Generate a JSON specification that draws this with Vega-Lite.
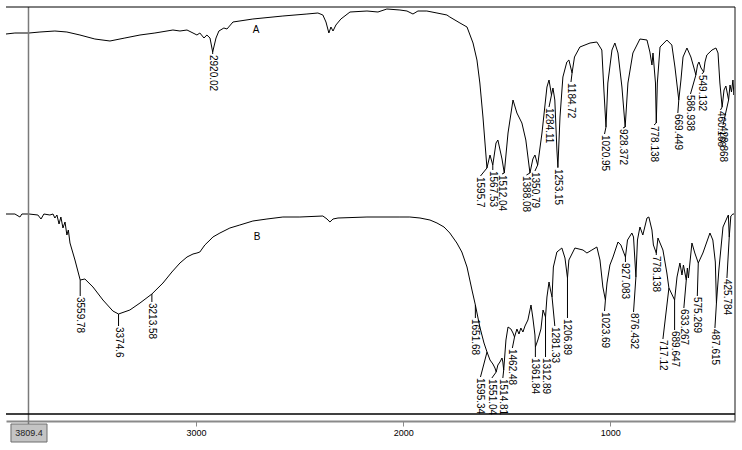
{
  "$schema": "https://vega.github.io/schema/vega-lite/v6.json",
  "autosize": "none",
  "width": 729,
  "height": 414,
  "padding": {"left": 6, "top": 7, "right": 7, "bottom": 29},
  "background": "white",
  "config": {"view": {"stroke": null}},
  "data": {"values": [
      {"k":"A","w":3918,"t":387},{"k":"A","w":3875,"t":388},{"k":"A","w":3807,"t":388},{"k":"A","w":3754,"t":389},{"k":"A","w":3682,"t":390},{"k":"A","w":3624,"t":389},{"k":"A","w":3561,"t":386},{"k":"A","w":3489,"t":382},{"k":"A","w":3416,"t":380},{"k":"A","w":3344,"t":383},{"k":"A","w":3271,"t":386},{"k":"A","w":3199,"t":388},{"k":"A","w":3112,"t":391},{"k":"A","w":3078,"t":390},{"k":"A","w":3044,"t":391},{"k":"A","w":3015,"t":388},{"k":"A","w":2996,"t":386},{"k":"A","w":2982,"t":388},{"k":"A","w":2962,"t":383},{"k":"A","w":2948,"t":386},{"k":"A","w":2933,"t":383},{"k":"A","w":2920.02,"t":369},{"k":"A","w":2904,"t":383},{"k":"A","w":2890,"t":390},{"k":"A","w":2866,"t":393},{"k":"A","w":2851,"t":392},{"k":"A","w":2822,"t":399},{"k":"A","w":2726,"t":402},{"k":"A","w":2581,"t":405},{"k":"A","w":2465,"t":407},{"k":"A","w":2412,"t":408},{"k":"A","w":2388,"t":406},{"k":"A","w":2373,"t":399},{"k":"A","w":2359,"t":388},{"k":"A","w":2349,"t":394},{"k":"A","w":2339,"t":390},{"k":"A","w":2325,"t":396},{"k":"A","w":2301,"t":402},{"k":"A","w":2257,"t":409},{"k":"A","w":2175,"t":410},{"k":"A","w":2122,"t":409},{"k":"A","w":2079,"t":412},{"k":"A","w":2016,"t":411},{"k":"A","w":1982,"t":410},{"k":"A","w":1953,"t":407},{"k":"A","w":1929,"t":410},{"k":"A","w":1886,"t":410},{"k":"A","w":1837,"t":408},{"k":"A","w":1789,"t":406},{"k":"A","w":1775,"t":404},{"k":"A","w":1726,"t":398},{"k":"A","w":1692,"t":394},{"k":"A","w":1663,"t":378},{"k":"A","w":1644,"t":361},{"k":"A","w":1630,"t":338},{"k":"A","w":1615,"t":304},{"k":"A","w":1595.7,"t":253},{"k":"A","w":1581,"t":266},{"k":"A","w":1567.53,"t":256},{"k":"A","w":1552,"t":278},{"k":"A","w":1543,"t":281},{"k":"A","w":1523,"t":262},{"k":"A","w":1512.04,"t":248},{"k":"A","w":1494,"t":288},{"k":"A","w":1470,"t":321},{"k":"A","w":1451,"t":308},{"k":"A","w":1427,"t":298},{"k":"A","w":1408,"t":281},{"k":"A","w":1388.08,"t":248},{"k":"A","w":1374,"t":262},{"k":"A","w":1364,"t":266},{"k":"A","w":1350.79,"t":256},{"k":"A","w":1330,"t":288},{"k":"A","w":1306,"t":334},{"k":"A","w":1296,"t":341},{"k":"A","w":1284.11,"t":326},{"k":"A","w":1277,"t":333},{"k":"A","w":1268,"t":321},{"k":"A","w":1258,"t":271},{"k":"A","w":1253.15,"t":254},{"k":"A","w":1243,"t":304},{"k":"A","w":1229,"t":344},{"k":"A","w":1210,"t":359},{"k":"A","w":1200,"t":361},{"k":"A","w":1184.72,"t":348},{"k":"A","w":1173,"t":364},{"k":"A","w":1147,"t":374},{"k":"A","w":1098,"t":378},{"k":"A","w":1065,"t":379},{"k":"A","w":1041,"t":371},{"k":"A","w":1031,"t":331},{"k":"A","w":1020.95,"t":294},{"k":"A","w":1012,"t":338},{"k":"A","w":992,"t":371},{"k":"A","w":978,"t":378},{"k":"A","w":963,"t":368},{"k":"A","w":944,"t":334},{"k":"A","w":928.372,"t":294},{"k":"A","w":915,"t":338},{"k":"A","w":891,"t":368},{"k":"A","w":857,"t":382},{"k":"A","w":823,"t":381},{"k":"A","w":809,"t":369},{"k":"A","w":799,"t":356},{"k":"A","w":794,"t":368},{"k":"A","w":782,"t":338},{"k":"A","w":778.138,"t":298},{"k":"A","w":773,"t":338},{"k":"A","w":760,"t":374},{"k":"A","w":727,"t":381},{"k":"A","w":703,"t":376},{"k":"A","w":688,"t":354},{"k":"A","w":669.449,"t":321},{"k":"A","w":659,"t":341},{"k":"A","w":649,"t":364},{"k":"A","w":630,"t":373},{"k":"A","w":611,"t":364},{"k":"A","w":596,"t":353},{"k":"A","w":586.938,"t":346},{"k":"A","w":579,"t":356},{"k":"A","w":572,"t":359},{"k":"A","w":562,"t":353},{"k":"A","w":549.132,"t":349},{"k":"A","w":543,"t":359},{"k":"A","w":534,"t":366},{"k":"A","w":509,"t":371},{"k":"A","w":490,"t":373},{"k":"A","w":480,"t":368},{"k":"A","w":471,"t":338},{"k":"A","w":460.168,"t":314},{"k":"A","w":451,"t":331},{"k":"A","w":442,"t":335},{"k":"A","w":428.868,"t":321},{"k":"A","w":422,"t":336},{"k":"A","w":415,"t":329},{"k":"A","w":408,"t":341},{"k":"A","w":403,"t":326},{"k":"A","w":398,"t":338},
      {"k":"B","w":3918,"t":207},{"k":"B","w":3875,"t":207},{"k":"B","w":3851,"t":204},{"k":"B","w":3841,"t":207},{"k":"B","w":3807,"t":207},{"k":"B","w":3764,"t":206},{"k":"B","w":3749,"t":202},{"k":"B","w":3735,"t":207},{"k":"B","w":3706,"t":206},{"k":"B","w":3691,"t":207},{"k":"B","w":3682,"t":203},{"k":"B","w":3672,"t":206},{"k":"B","w":3662,"t":197},{"k":"B","w":3653,"t":204},{"k":"B","w":3643,"t":193},{"k":"B","w":3633,"t":199},{"k":"B","w":3624,"t":186},{"k":"B","w":3617,"t":191},{"k":"B","w":3609,"t":178},{"k":"B","w":3585,"t":161},{"k":"B","w":3559.78,"t":141},{"k":"B","w":3537,"t":142},{"k":"B","w":3498,"t":134},{"k":"B","w":3450,"t":121},{"k":"B","w":3402,"t":110},{"k":"B","w":3374.6,"t":107},{"k":"B","w":3320,"t":111},{"k":"B","w":3271,"t":118},{"k":"B","w":3213.58,"t":127},{"k":"B","w":3160,"t":138},{"k":"B","w":3117,"t":149},{"k":"B","w":3078,"t":158},{"k":"B","w":3044,"t":164},{"k":"B","w":3015,"t":167},{"k":"B","w":2996,"t":168},{"k":"B","w":2982,"t":169},{"k":"B","w":2958,"t":176},{"k":"B","w":2933,"t":181},{"k":"B","w":2919,"t":184},{"k":"B","w":2885,"t":188},{"k":"B","w":2837,"t":193},{"k":"B","w":2789,"t":196},{"k":"B","w":2726,"t":200},{"k":"B","w":2658,"t":202},{"k":"B","w":2581,"t":204},{"k":"B","w":2499,"t":204},{"k":"B","w":2388,"t":205},{"k":"B","w":2368,"t":202},{"k":"B","w":2354,"t":199},{"k":"B","w":2339,"t":202},{"k":"B","w":2315,"t":203},{"k":"B","w":2175,"t":204},{"k":"B","w":2016,"t":204},{"k":"B","w":1968,"t":204},{"k":"B","w":1919,"t":203},{"k":"B","w":1871,"t":201},{"k":"B","w":1837,"t":198},{"k":"B","w":1803,"t":194},{"k":"B","w":1775,"t":188},{"k":"B","w":1741,"t":178},{"k":"B","w":1717,"t":169},{"k":"B","w":1692,"t":154},{"k":"B","w":1668,"t":131},{"k":"B","w":1651.68,"t":116},{"k":"B","w":1630,"t":94},{"k":"B","w":1610,"t":78},{"k":"B","w":1595.34,"t":69},{"k":"B","w":1581,"t":61},{"k":"B","w":1567,"t":57},{"k":"B","w":1557,"t":53},{"k":"B","w":1551.04,"t":49},{"k":"B","w":1543,"t":56},{"k":"B","w":1533,"t":59},{"k":"B","w":1523,"t":63},{"k":"B","w":1519,"t":59},{"k":"B","w":1514.81,"t":51},{"k":"B","w":1504,"t":81},{"k":"B","w":1494,"t":94},{"k":"B","w":1480,"t":92},{"k":"B","w":1470,"t":88},{"k":"B","w":1462.48,"t":84},{"k":"B","w":1451,"t":92},{"k":"B","w":1441,"t":87},{"k":"B","w":1432,"t":93},{"k":"B","w":1422,"t":89},{"k":"B","w":1412,"t":95},{"k":"B","w":1398,"t":101},{"k":"B","w":1383,"t":116},{"k":"B","w":1374,"t":103},{"k":"B","w":1364,"t":86},{"k":"B","w":1361.84,"t":74},{"k":"B","w":1350,"t":81},{"k":"B","w":1335,"t":92},{"k":"B","w":1325,"t":111},{"k":"B","w":1312.89,"t":104},{"k":"B","w":1306,"t":124},{"k":"B","w":1296,"t":139},{"k":"B","w":1289,"t":131},{"k":"B","w":1281.33,"t":124},{"k":"B","w":1275,"t":154},{"k":"B","w":1258,"t":169},{"k":"B","w":1234,"t":173},{"k":"B","w":1219,"t":163},{"k":"B","w":1206.89,"t":143},{"k":"B","w":1200,"t":161},{"k":"B","w":1171,"t":173},{"k":"B","w":1132,"t":171},{"k":"B","w":1113,"t":168},{"k":"B","w":1089,"t":171},{"k":"B","w":1065,"t":174},{"k":"B","w":1050,"t":161},{"k":"B","w":1036,"t":134},{"k":"B","w":1023.69,"t":121},{"k":"B","w":1016,"t":138},{"k":"B","w":1002,"t":156},{"k":"B","w":987,"t":164},{"k":"B","w":963,"t":179},{"k":"B","w":949,"t":176},{"k":"B","w":927.083,"t":164},{"k":"B","w":917,"t":181},{"k":"B","w":896,"t":188},{"k":"B","w":888,"t":184},{"k":"B","w":876.432,"t":144},{"k":"B","w":869,"t":181},{"k":"B","w":857,"t":194},{"k":"B","w":843,"t":186},{"k":"B","w":823,"t":203},{"k":"B","w":814,"t":204},{"k":"B","w":799,"t":191},{"k":"B","w":792,"t":176},{"k":"B","w":778.138,"t":168},{"k":"B","w":770,"t":183},{"k":"B","w":746,"t":171},{"k":"B","w":727,"t":148},{"k":"B","w":717.12,"t":133},{"k":"B","w":689.647,"t":121},{"k":"B","w":678,"t":144},{"k":"B","w":664,"t":158},{"k":"B","w":654,"t":146},{"k":"B","w":647,"t":156},{"k":"B","w":633.267,"t":141},{"k":"B","w":628,"t":153},{"k":"B","w":623,"t":143},{"k":"B","w":606,"t":178},{"k":"B","w":592,"t":168},{"k":"B","w":575.269,"t":158},{"k":"B","w":553,"t":168},{"k":"B","w":519,"t":188},{"k":"B","w":505,"t":181},{"k":"B","w":493,"t":159},{"k":"B","w":487.615,"t":118},{"k":"B","w":476,"t":151},{"k":"B","w":456,"t":194},{"k":"B","w":437,"t":203},{"k":"B","w":430,"t":206},{"k":"B","w":425.784,"t":184},{"k":"B","w":418,"t":205},{"k":"B","w":408,"t":207},{"k":"B","w":398,"t":207},
      {"k":"peak","lw":2920.02,"lt":367,"label":"2920.02"},
      {"k":"peak","lw":1627,"lt":245,"label":"1595.7"},
      {"k":"peak","lw":1567.53,"lt":251,"label":"1567.53"},
      {"k":"peak","lw":1523,"lt":247,"label":"1512.04"},
      {"k":"peak","lw":1405,"lt":246,"label":"1388.08"},
      {"k":"peak","lw":1364,"lt":250,"label":"1350.79"},
      {"k":"peak","lw":1296,"lt":314,"label":"1284.11"},
      {"k":"peak","lw":1253.15,"lt":253,"label":"1253.15"},
      {"k":"peak","lw":1190,"lt":339,"label":"1184.72"},
      {"k":"peak","lw":1028,"lt":287,"label":"1020.95"},
      {"k":"peak","lw":939,"lt":293,"label":"928.372"},
      {"k":"peak","lw":789,"lt":296,"label":"778.138"},
      {"k":"peak","lw":674,"lt":308,"label":"669.449"},
      {"k":"peak","lw":613,"lt":327,"label":"586.938"},
      {"k":"peak","lw":558,"lt":347,"label":"549.132"},
      {"k":"peak","lw":468,"lt":311,"label":"460.168"},
      {"k":"peak","lw":456,"lt":296,"label":"428.868"},
      {"k":"peak","lw":3559.78,"lt":125,"label":"3559.78"},
      {"k":"peak","lw":3374.6,"lt":95,"label":"3374.6"},
      {"k":"peak","lw":3213.58,"lt":119,"label":"3213.58"},
      {"k":"peak","lw":1651.68,"lt":103,"label":"1651.68"},
      {"k":"peak","lw":1627,"lt":44,"label":"1595.34"},
      {"k":"peak","lw":1572,"lt":43,"label":"1551.04"},
      {"k":"peak","lw":1519,"lt":43,"label":"1514.81"},
      {"k":"peak","lw":1473,"lt":73,"label":"1462.48"},
      {"k":"peak","lw":1361.84,"lt":64,"label":"1361.84"},
      {"k":"peak","lw":1312.89,"lt":64,"label":"1312.89"},
      {"k":"peak","lw":1268,"lt":95,"label":"1281.33"},
      {"k":"peak","lw":1206.89,"lt":103,"label":"1206.89"},
      {"k":"peak","lw":1028,"lt":110,"label":"1023.69"},
      {"k":"peak","lw":927.083,"lt":159,"label":"927.083"},
      {"k":"peak","lw":888,"lt":109,"label":"876.432"},
      {"k":"peak","lw":778.138,"lt":166,"label":"778.138"},
      {"k":"peak","lw":746,"lt":82,"label":"717.12"},
      {"k":"peak","lw":689.647,"lt":91,"label":"689.647"},
      {"k":"peak","lw":645,"lt":113,"label":"633.267"},
      {"k":"peak","lw":580,"lt":125,"label":"575.269"},
      {"k":"peak","lw":495,"lt":93,"label":"487.615"},
      {"k":"peak","lw":437,"lt":143,"label":"425.784"},
      {"k":"tick","g":"a1","w":2920.02,"t":369},{"k":"tick","g":"a1","w":2920.01,"t":367},
      {"k":"tick","g":"a2","w":1595.7,"t":253},{"k":"tick","g":"a2","w":1627,"t":245},
      {"k":"tick","g":"a3","w":1567.53,"t":256},{"k":"tick","g":"a3","w":1567.52,"t":251},
      {"k":"tick","g":"a4","w":1512.04,"t":248},{"k":"tick","g":"a4","w":1523,"t":247},
      {"k":"tick","g":"a5","w":1388.08,"t":248},{"k":"tick","g":"a5","w":1405,"t":246},
      {"k":"tick","g":"a6","w":1350.79,"t":256},{"k":"tick","g":"a6","w":1364,"t":250},
      {"k":"tick","g":"a7","w":1284.11,"t":326},{"k":"tick","g":"a7","w":1296,"t":314},
      {"k":"tick","g":"a8","w":1253.15,"t":254},{"k":"tick","g":"a8","w":1253.14,"t":253},
      {"k":"tick","g":"a9","w":1184.72,"t":348},{"k":"tick","g":"a9","w":1190,"t":339},
      {"k":"tick","g":"a10","w":1020.95,"t":294},{"k":"tick","g":"a10","w":1028,"t":287},
      {"k":"tick","g":"a11","w":928.372,"t":294},{"k":"tick","g":"a11","w":939,"t":293},
      {"k":"tick","g":"a12","w":778.138,"t":298},{"k":"tick","g":"a12","w":789,"t":296},
      {"k":"tick","g":"a13","w":669.449,"t":321},{"k":"tick","g":"a13","w":674,"t":308},
      {"k":"tick","g":"a14","w":586.938,"t":346},{"k":"tick","g":"a14","w":613,"t":327},
      {"k":"tick","g":"a15","w":549.132,"t":349},{"k":"tick","g":"a15","w":558,"t":347},
      {"k":"tick","g":"a16","w":460.168,"t":314},{"k":"tick","g":"a16","w":468,"t":311},
      {"k":"tick","g":"a17","w":428.868,"t":321},{"k":"tick","g":"a17","w":456,"t":296},
      {"k":"tick","g":"b1","w":3559.78,"t":141},{"k":"tick","g":"b1","w":3559.77,"t":125},
      {"k":"tick","g":"b2","w":3374.6,"t":107},{"k":"tick","g":"b2","w":3374.59,"t":95},
      {"k":"tick","g":"b3","w":3213.58,"t":127},{"k":"tick","g":"b3","w":3213.57,"t":119},
      {"k":"tick","g":"b4","w":1651.68,"t":116},{"k":"tick","g":"b4","w":1651.67,"t":103},
      {"k":"tick","g":"b5","w":1595.34,"t":69},{"k":"tick","g":"b5","w":1627,"t":44},
      {"k":"tick","g":"b6","w":1551.04,"t":49},{"k":"tick","g":"b6","w":1572,"t":43},
      {"k":"tick","g":"b7","w":1514.81,"t":51},{"k":"tick","g":"b7","w":1519,"t":43},
      {"k":"tick","g":"b8","w":1462.48,"t":84},{"k":"tick","g":"b8","w":1473,"t":73},
      {"k":"tick","g":"b9","w":1361.84,"t":74},{"k":"tick","g":"b9","w":1361.83,"t":64},
      {"k":"tick","g":"b10","w":1312.89,"t":104},{"k":"tick","g":"b10","w":1312.88,"t":64},
      {"k":"tick","g":"b11","w":1281.33,"t":124},{"k":"tick","g":"b11","w":1268,"t":95},
      {"k":"tick","g":"b12","w":1206.89,"t":143},{"k":"tick","g":"b12","w":1206.88,"t":103},
      {"k":"tick","g":"b13","w":1023.69,"t":121},{"k":"tick","g":"b13","w":1028,"t":110},
      {"k":"tick","g":"b14","w":927.083,"t":164},{"k":"tick","g":"b14","w":927.08,"t":159},
      {"k":"tick","g":"b15","w":876.432,"t":144},{"k":"tick","g":"b15","w":888,"t":109},
      {"k":"tick","g":"b16","w":778.138,"t":168},{"k":"tick","g":"b16","w":778.13,"t":166},
      {"k":"tick","g":"b17","w":717.12,"t":133},{"k":"tick","g":"b17","w":746,"t":82},
      {"k":"tick","g":"b18","w":689.647,"t":121},{"k":"tick","g":"b18","w":689.64,"t":91},
      {"k":"tick","g":"b19","w":633.267,"t":141},{"k":"tick","g":"b19","w":645,"t":113},
      {"k":"tick","g":"b20","w":575.269,"t":158},{"k":"tick","g":"b20","w":580,"t":125},
      {"k":"tick","g":"b21","w":487.615,"t":118},{"k":"tick","g":"b21","w":495,"t":93},
      {"k":"tick","g":"b22","w":425.784,"t":184},{"k":"tick","g":"b22","w":437,"t":143},
      {"k":"tick","g":"top","w":3918,"t":414},{"k":"tick","g":"top","w":398,"t":414},
      {"k":"base","g":"base","w":3918,"t":7},{"k":"base","g":"base","w":398,"t":7},
      {"k":"edge","g":"edge","w":398,"t":414},{"k":"edge","g":"edge","w":398.01,"t":0},
      {"k":"cur","g":"cur","w":3809.4,"t":414},{"k":"cur","g":"cur","w":3809.39,"t":-3},
      {"k":"name","lw":2711,"lt":391,"label":"A"},
      {"k":"name","lw":2706,"lt":184,"label":"B"},
      {"k":"boxfill","w":3894,"t":-12},{"k":"boxfill","w":3720,"t":-12},
      {"k":"boxb","o":1,"w":3894,"t":-3},{"k":"boxb","o":2,"w":3720,"t":-3},{"k":"boxb","o":3,"w":3720,"t":-21},{"k":"boxb","o":4,"w":3894,"t":-21},{"k":"boxb","o":5,"w":3894,"t":-3},
      {"k":"boxlabel","lw":3807,"lt":-12,"label":"3809.4"}
  ]},
  "layer": [
    {
      "transform": [{"filter": {"field":"k","oneOf":["A","B"]}}],
      "mark": {"type":"line","color":"#000000","strokeWidth":1},
      "encoding": {
        "x": {"field":"w","type":"quantitative","scale":{"domain":[3918,398],"nice":false,"zero":false},"axis":{"values":[3000,2000,1000],"format":"d","title":null,"grid":false,"domainColor":"#8a8a8a","domainWidth":2,"tickColor":"#8a8a8a","tickSize":5,"labelFont":"Liberation Sans","labelFontSize":9,"labelColor":"#000000","labelPadding":2}},
        "y": {"field":"t","type":"quantitative","scale":{"domain":[0,414],"nice":false,"zero":false},"axis":null},
        "detail": {"field":"k","type":"nominal"}
      }
    },
    {
      "transform": [{"filter": {"field":"k","equal":"edge"}}],
      "mark": {"type":"line","color":"#8a8a8a","strokeWidth":2},
      "encoding": {
        "x": {"field":"w","type":"quantitative"},
        "y": {"field":"t","type":"quantitative"},
        "detail": {"field":"g","type":"nominal"}
      }
    },
    {
      "transform": [{"filter": {"field":"k","equal":"cur"}}],
      "mark": {"type":"line","color":"#7a7a7a","strokeWidth":1.5},
      "encoding": {
        "x": {"field":"w","type":"quantitative"},
        "y": {"field":"t","type":"quantitative"},
        "detail": {"field":"g","type":"nominal"}
      }
    },
    {
      "transform": [{"filter": {"field":"k","equal":"tick"}}],
      "mark": {"type":"line","color":"#000000","strokeWidth":1},
      "encoding": {
        "x": {"field":"w","type":"quantitative"},
        "y": {"field":"t","type":"quantitative"},
        "detail": {"field":"g","type":"nominal"}
      }
    },
    {
      "transform": [{"filter": {"field":"k","equal":"peak"}}],
      "mark": {"type":"text","angle":90,"align":"left","baseline":"middle","font":"Liberation Sans","fontSize":10,"color":"#000000","dx":1},
      "encoding": {
        "x": {"field":"lw","type":"quantitative"},
        "y": {"field":"lt","type":"quantitative"},
        "text": {"field":"label","type":"nominal"}
      }
    },
    {
      "transform": [{"filter": {"field":"k","equal":"name"}}],
      "mark": {"type":"text","align":"center","baseline":"middle","font":"Liberation Sans","fontSize":10,"color":"#000000"},
      "encoding": {
        "x": {"field":"lw","type":"quantitative"},
        "y": {"field":"lt","type":"quantitative"},
        "text": {"field":"label","type":"nominal"}
      }
    },
    {
      "transform": [{"filter": {"field":"k","equal":"base"}}],
      "mark": {"type":"line","color":"#000000","strokeWidth":1.5},
      "encoding": {
        "x": {"field":"w","type":"quantitative"},
        "y": {"field":"t","type":"quantitative"}
      }
    },
    {
      "transform": [{"filter": {"field":"k","equal":"boxfill"}}],
      "mark": {"type":"line","color":"#c4c4c4","strokeWidth":18,"strokeCap":"butt"},
      "encoding": {
        "x": {"field":"w","type":"quantitative"},
        "y": {"field":"t","type":"quantitative"}
      }
    },
    {
      "transform": [{"filter": {"field":"k","equal":"boxb"}}],
      "mark": {"type":"line","color":"#6e6e6e","strokeWidth":1},
      "encoding": {
        "x": {"field":"w","type":"quantitative"},
        "y": {"field":"t","type":"quantitative"},
        "order": {"field":"o","type":"quantitative"}
      }
    },
    {
      "transform": [{"filter": {"field":"k","equal":"boxlabel"}}],
      "mark": {"type":"text","align":"center","baseline":"middle","font":"Liberation Sans","fontSize":9,"color":"#222222"},
      "encoding": {
        "x": {"field":"lw","type":"quantitative"},
        "y": {"field":"lt","type":"quantitative"},
        "text": {"field":"label","type":"nominal"}
      }
    }
  ]
}
